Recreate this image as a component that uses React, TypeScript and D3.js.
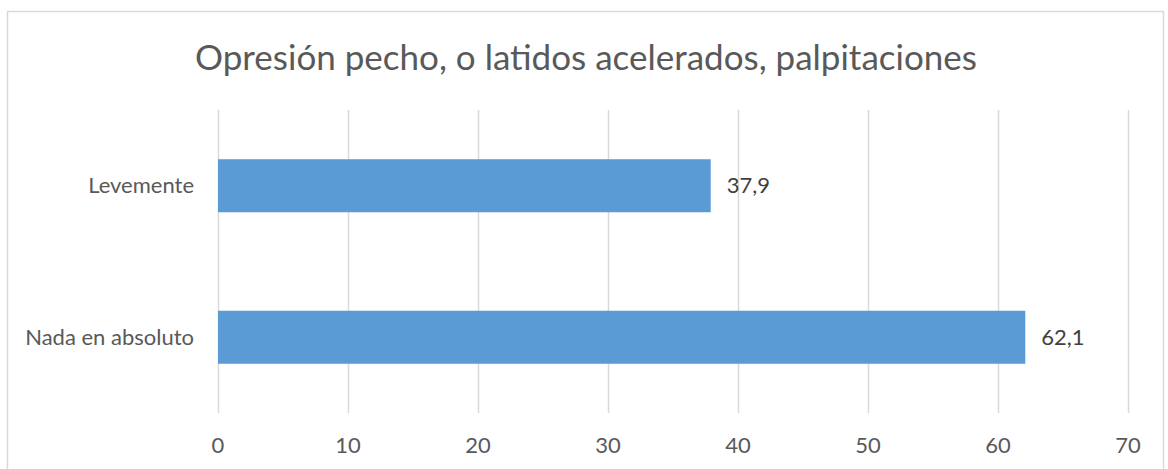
import React, { useEffect } from "react";
import * as d3 from "d3";

const title = "Opresión pecho, o latidos acelerados, palpitaciones";
const categories = ["Levemente", "Nada en absoluto"];
const values = [37.9, 62.1];
const valueLabels = ["37,9", "62,1"];
const ticks = [0, 10, 20, 30, 40, 50, 60, 70];

const W = 1168;
const H = 469;
const FONT = "Lato, 'Open Sans', sans-serif";

export default function App() {
  useEffect(() => {
    document.body.style.margin = "0";
  }, []);

  const x = d3.scaleLinear().domain([0, 70]).range([218, 1128]);
  const y = d3.scaleBand().domain(categories).range([110, 413]).paddingInner(0.65).paddingOuter(0.325);

  return (
    <svg width={W} height={H} style={{ display: "block", background: "#fff" }}>
      <rect x={7.5} y={11.5} width={1156} height={480} fill="#fff" stroke="#d9d9d9" strokeWidth={1.5} />
      <text x={586} y={70} textAnchor="middle" fontFamily={FONT} fontSize={35} fill="#595959">
        {title}
      </text>
      {ticks.map((t) => (
        <g key={t}>
          <line x1={Math.round(x(t)) + 0.5} x2={Math.round(x(t)) + 0.5} y1={110} y2={413} stroke="#d9d9d9" strokeWidth={1.5} />
          <text x={x(t)} y={453} textAnchor="middle" fontFamily={FONT} fontSize={22} fill="#595959">
            {t}
          </text>
        </g>
      ))}
      {categories.map((c, i) => (
        <g key={c}>
          <rect x={x(0)} y={y(c)!} width={x(values[i]) - x(0)} height={y.bandwidth()} fill="#5b9bd5" />
          <text x={194} y={y(c)! + y.bandwidth() / 2} dy="0.35em" textAnchor="end" fontFamily={FONT} fontSize={22} fill="#595959">
            {c}
          </text>
          <text x={x(values[i]) + 16} y={y(c)! + y.bandwidth() / 2} dy="0.35em" textAnchor="start" fontFamily={FONT} fontSize={22} fill="#404040">
            {valueLabels[i]}
          </text>
        </g>
      ))}
    </svg>
  );
}
